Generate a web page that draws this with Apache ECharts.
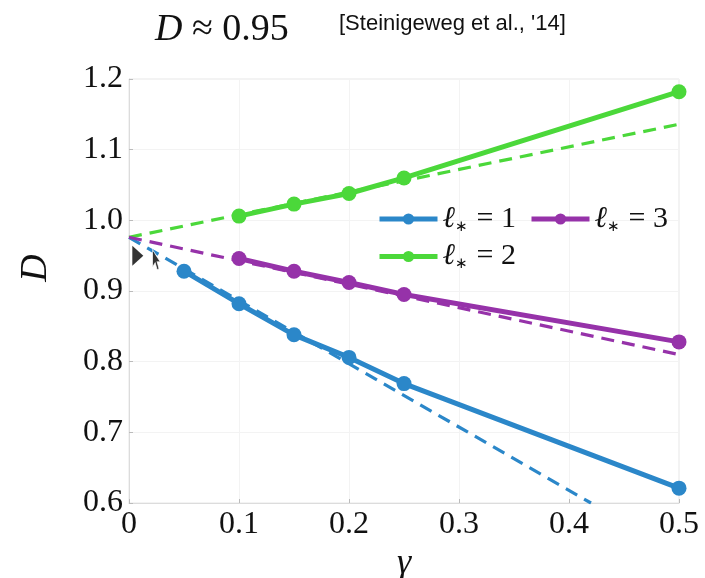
<!DOCTYPE html>
<html>
<head>
<meta charset="utf-8">
<script src="https://cdn.jsdelivr.net/npm/echarts@6/dist/echarts.min.js"></script>
<style>
  html, body { margin: 0; padding: 0; background: #fff; }
  #chart { width: 705px; height: 578px; }
</style>
</head>
<body>
<div id="chart"></div>
<script>
// Diffusion constant D versus dephasing rate gamma for several cutoffs l*
const gammaL1 = [0.05, 0.1, 0.15, 0.2, 0.25, 0.5];
const diffL1 = [0.928, 0.882, 0.838, 0.806, 0.769, 0.621];

const gammaL2 = [0.1, 0.15, 0.2, 0.25, 0.5];
const diffL2 = [1.006, 1.023, 1.038, 1.060, 1.182];

const gammaL3 = [0.1, 0.15, 0.2, 0.25, 0.5];
const diffL3 = [0.946, 0.928, 0.912, 0.895, 0.828];

// Linear small-gamma expansions (dashed)
const dashGammaL1 = [0, 0.42];
const dashDiffL1 = [0.976, 0.6];
const dashGammaL2 = [0, 0.5];
const dashDiffL2 = [0.976, 1.136];
const dashGammaL3 = [0, 0.5];
const dashDiffL3 = [0.976, 0.810];

// Reference value D ≈ 0.95 marked on the axis
const refPoint = [0.008, 0.95];
const pointerPos = [0.025, 0.944];

const xTicks = [0, 0.1, 0.2, 0.3, 0.4, 0.5];
const yTicks = [0.6, 0.7, 0.8, 0.9, 1.0, 1.1, 1.2];

const BLUE = '#2b87c9';
const GREEN = '#4bd83a';
const PURPLE = '#9632a9';

const zip = (xs, ys) => xs.map((x, i) => [x, ys[i]]);

const serifFont = 'Liberation Serif';
const mathRich = {
  l: { fontFamily: serifFont, fontStyle: 'italic', fontSize: 30, color: '#111' },
  s: { fontFamily: serifFont, fontSize: 15, color: '#111', verticalAlign: 'bottom', padding: [16, 1, 0, 0] },
  t: { fontFamily: serifFont, fontSize: 30, color: '#111' }
};
const legendFmt = name => {
  const n = name.slice(-1);
  return '{l|ℓ}{s|∗}{t| = ' + n + '}';
};

function solid(name, data, color) {
  return {
    name, type: 'line', data,
    symbol: 'circle', symbolSize: 15,
    lineStyle: { color, width: 5 },
    itemStyle: { color },
    z: 3, animation: false
  };
}
function dashed(data, color) {
  return {
    type: 'line', data, symbol: 'none',
    lineStyle: { color, width: 3.2, type: [13, 8] },
    z: 2, animation: false, silent: true
  };
}

const chart = echarts.init(document.getElementById('chart'));
chart.setOption({
  backgroundColor: '#fff',
  animation: false,
  title: [
    {
      text: '{d|D}{r| ≈ 0.95}',
      left: 150, top: 6,
      textStyle: {
        rich: {
          d: { fontFamily: serifFont, fontStyle: 'italic', fontWeight: 'normal', fontSize: 38, color: '#111' },
          r: { fontFamily: serifFont, fontWeight: 'normal', fontSize: 38, color: '#111' }
        }
      }
    },
    {
      text: "[Steinigeweg et al., '14]",
      left: 334, top: 8,
      textStyle: { fontFamily: 'Liberation Sans', fontWeight: 'normal', fontSize: 22, color: '#111' }
    }
  ],
  grid: {
    left: 129, right: 26, top: 79, bottom: 75,
    outerBoundsMode: 'none', containLabel: false,
    show: true, borderColor: '#e6e6e6', borderWidth: 1
  },
  legend: [
    {
      data: ['l1', 'l2'],
      orient: 'vertical', left: 372, top: 199,
      itemWidth: 58, itemHeight: 14, itemGap: 7,
      lineStyle: { width: 5 },
      formatter: legendFmt,
      textStyle: { rich: mathRich }
    },
    {
      data: ['l3'],
      orient: 'vertical', left: 524, top: 199,
      itemWidth: 58, itemHeight: 14,
      lineStyle: { width: 5 },
      formatter: legendFmt,
      textStyle: { rich: mathRich }
    }
  ],
  xAxis: {
    type: 'value', min: 0, max: 0.5, interval: 0.1,
    name: 'γ', nameLocation: 'middle', nameGap: 22,
    nameTextStyle: { fontFamily: serifFont, fontStyle: 'italic', fontSize: 36, color: '#111' },
    axisLine: { show: true, lineStyle: { color: '#dcdcdc' } },
    axisTick: { show: true, inside: true, length: 4, lineStyle: { color: '#bbb' } },
    splitLine: { show: true, lineStyle: { color: '#f3f3f3' } },
    axisLabel: {
      fontFamily: serifFont, fontSize: 32, color: '#111', margin: 6,
      formatter: v => (v === 0 ? '0' : v.toFixed(1))
    }
  },
  yAxis: {
    type: 'value', min: 0.6, max: 1.2, interval: 0.1,
    name: 'D', nameLocation: 'middle', nameGap: 74, nameRotate: 90,
    nameTextStyle: {
      fontFamily: serifFont, fontStyle: 'italic', fontSize: 38, color: '#111',
      padding: [0, 0, 0, 46]
    },
    axisLine: { show: true, lineStyle: { color: '#dcdcdc' } },
    axisTick: { show: true, inside: true, length: 4, lineStyle: { color: '#bbb' } },
    splitLine: { show: true, lineStyle: { color: '#f3f3f3' } },
    axisLabel: {
      fontFamily: serifFont, fontSize: 32, color: '#111', margin: 6,
      formatter: v => v.toFixed(1)
    }
  },
  series: [
    dashed(zip(dashGammaL1, dashDiffL1), BLUE),
    dashed(zip(dashGammaL2, dashDiffL2), GREEN),
    dashed(zip(dashGammaL3, dashDiffL3), PURPLE),
    solid('l1', zip(gammaL1, diffL1), BLUE),
    solid('l2', zip(gammaL2, diffL2), GREEN),
    solid('l3', zip(gammaL3, diffL3), PURPLE),
    {
      type: 'scatter', data: [refPoint],
      symbol: 'triangle', symbolRotate: -90, symbolSize: [20, 11],
      itemStyle: { color: '#000' }, z: 5, silent: true
    },
    {
      type: 'scatter', data: [pointerPos],
      symbol: 'path://M0,0 L0,17 L4,13 L7,20 L10,19 L7,12 L12,12 Z',
      symbolSize: [13, 20], symbolKeepAspect: true,
      itemStyle: { color: '#000', borderColor: '#fff', borderWidth: 1 }, z: 6, silent: true
    }
  ]
});
</script>
</body>
</html>
